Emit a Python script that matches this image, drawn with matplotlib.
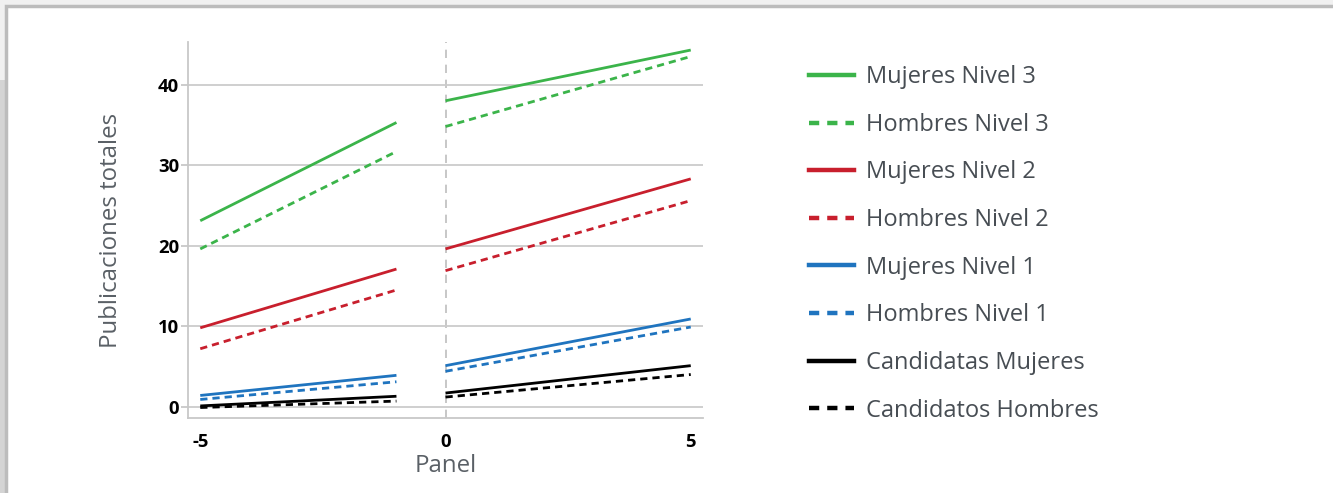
"""
Publicaciones totales por panel, mujeres y hombres por nivel.
"""
import matplotlib
matplotlib.use("Agg")
from matplotlib import pyplot, rcParams
from matplotlib.lines import Line2D
from matplotlib.patches import Rectangle

# Data
years_before = [-5, -1]
years_after = [0, 5]

series_labels = ["Mujeres Nivel 3", "Hombres Nivel 3",
                 "Mujeres Nivel 2", "Hombres Nivel 2",
                 "Mujeres Nivel 1", "Hombres Nivel 1",
                 "Candidatas Mujeres", "Candidatos Hombres"]

values_before = [[23.1, 35.3], [19.6, 31.7],
                 [9.8, 17.1], [7.2, 14.5],
                 [1.4, 3.9], [0.9, 3.1],
                 [0.1, 1.3], [-0.1, 0.7]]

values_after = [[38.0, 44.3], [34.8, 43.5],
                [19.6, 28.3], [16.9, 25.6],
                [5.1, 10.9], [4.4, 9.9],
                [1.7, 5.1], [1.2, 4.0]]

series_colors = ["#3bb44a", "#3bb44a", "#c81f2d", "#c81f2d",
                 "#1f74bf", "#1f74bf", "#000000", "#000000"]
series_dashed = [False, True] * 4

rcParams.update({"font.family": ["Open Sans", "DejaVu Sans"],
                 "axes.unicode_minus": False})

W, H = 1333, 493
figure = pyplot.figure(figsize=(W / 100, H / 100), dpi=100,
                       facecolor="#f1f1f1")

# card frame behind the chart
figure.patches.append(Rectangle((0, 0), 6 / W, 1 - 80 / H,
                                transform=figure.transFigure,
                                facecolor="#d4d4d4", edgecolor="none",
                                zorder=-10))
figure.patches.append(Rectangle((6 / W, -0.05), 1.0, 1 - 6 / H + 0.05,
                                transform=figure.transFigure,
                                facecolor="white", edgecolor="#bcbcbc",
                                linewidth=2.5, zorder=-9))

axes = figure.add_axes([188 / W, 75 / H, (703 - 188) / W, (418 - 42) / H])
axes.set_facecolor("none")

for label, y0, y1, color, dashed in zip(series_labels, values_before,
                                        values_after, series_colors,
                                        series_dashed):
    style = dict(color=color, linewidth=2.0, solid_capstyle="butt")
    if dashed:
        style.update(linestyle=(0, (2.6, 1.8)))
    axes.plot(years_before, y0, **style)
    axes.plot(years_after, y1, **style)

axes.axvline(0, color="#bdbdbd", linewidth=1.2, linestyle=(0, (5, 4)),
             zorder=0)

axes.set_xlim(-5.25, 5.25)
axes.set_ylim(-1.4, 45.3)
axes.set_xticks([-5, 0, 5])
axes.set_yticks([0, 10, 20, 30, 40])
axes.grid(axis="y", color="#cccccc", linewidth=1.3)
axes.set_axisbelow(True)

for side in ("top", "right"):
    axes.spines[side].set_visible(False)
for side in ("left", "bottom"):
    axes.spines[side].set_color("#c8c8c8")
    axes.spines[side].set_linewidth(1.3)

axes.tick_params(axis="y", length=5, color="#c8c8c8", width=1.3, pad=1.5,
                 labelsize=13.3)
axes.tick_params(axis="x", length=0, pad=11, labelsize=13.3)
for tick in axes.get_xticklabels() + axes.get_yticklabels():
    tick.set_fontweight("bold")

axes.set_xlabel("Panel", fontsize=17.3, color="#5a6066", labelpad=2)
axes.set_ylabel("Publicaciones totales", fontsize=17.3, color="#5a6066",
                labelpad=25)

handles = [Line2D([], [], color=c, linewidth=3.2,
                  linestyle=(0, (2.3, 1.8)) if d else "-")
           for c, d in zip(series_colors, series_dashed)]
legend = figure.legend(handles, series_labels, loc="upper left",
                       bbox_to_anchor=(788 / W, 1 - 44 / H),
                       frameon=False, fontsize=17, handlelength=1.9,
                       handletextpad=0.52, labelspacing=1.0)
for text in legend.get_texts():
    text.set_color("#474d53")

pyplot.savefig("out.png", dpi=100, facecolor=figure.get_facecolor())
pyplot.close()
